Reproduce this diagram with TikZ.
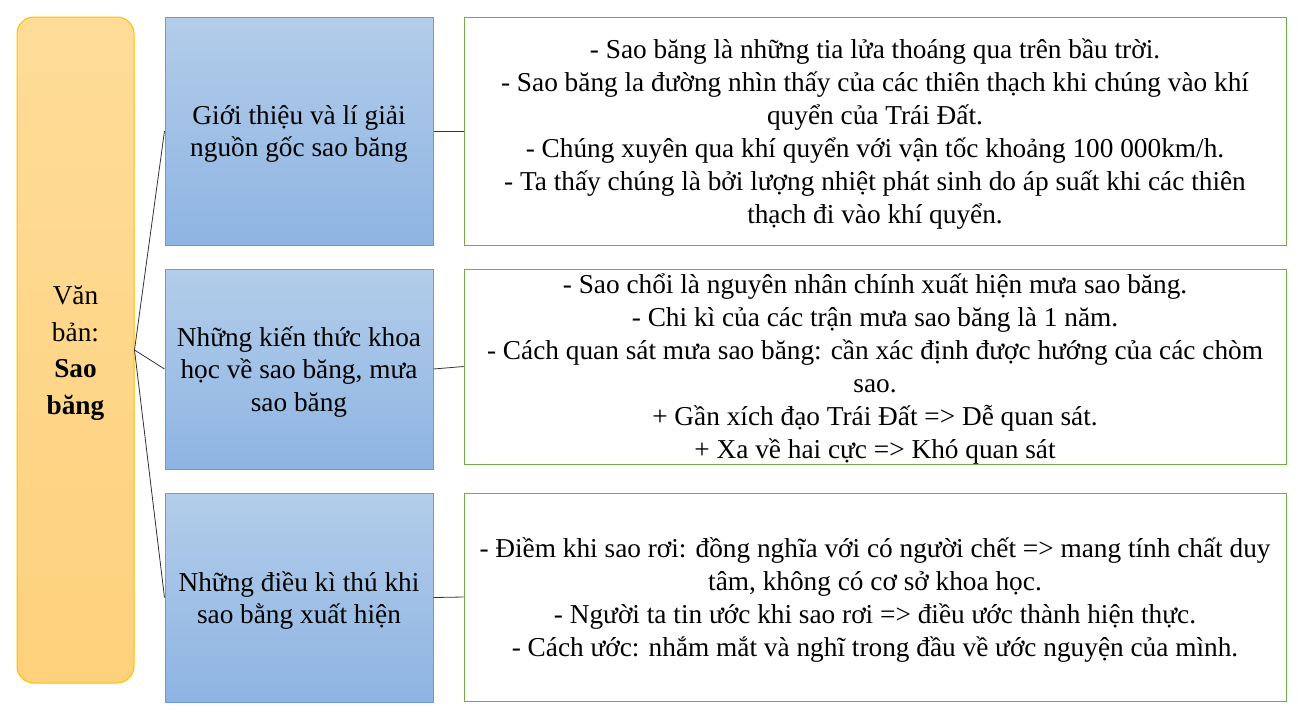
\documentclass[tikz,border=0pt]{standalone}
\usepackage{fontspec}
\setmainfont{Liberation Serif}
\definecolor{goldline}{HTML}{FFC000}
\definecolor{goldtop}{HTML}{FEDC98}
\definecolor{goldbot}{HTML}{FED17C}
\definecolor{blueline}{HTML}{6A9BD8}
\definecolor{bluetop}{HTML}{B3CDEA}
\definecolor{bluebot}{HTML}{8EB4E2}
\definecolor{greenline}{HTML}{70AD47}
\begin{document}
\begin{tikzpicture}[x=1pt, y=-1pt,
	titlebox/.style={draw=goldline, line width=1pt, rounded corners=17pt, top color=goldtop, bottom color=goldbot, minimum width=117pt, minimum height=666pt, align=center, text depth=0pt, font=\fontsize{27.3}{36.5}\selectfont},
	partbox/.style={draw=blueline, line width=1pt, top color=bluetop, bottom color=bluebot, minimum width=268pt, align=center, inner sep=0pt, text depth=0pt, font=\fontsize{27.3}{32.5}\selectfont},
	notebox/.style={draw=greenline, line width=1pt, fill=white, minimum width=822pt, align=center, inner sep=0pt, text depth=0pt, font=\fontsize{27.3}{33}\selectfont},
	link/.style={draw=black!80, line width=0.8pt}]
\useasboundingbox (0,0) rectangle (1298,716);
%
\node [titlebox] (title) at (75.5,350) {Văn\\bản:\\\textbf{Sao}\\\textbf{băng}};
%
\node [partbox, minimum height=228pt] (intro) at (299,131) {Giới thiệu và lí giải\\nguồn gốc sao băng};
\node [partbox, minimum height=200pt] (science) at (299,369) {Những kiến thức khoa\\học về sao băng, mưa\\sao băng};
\node [partbox, minimum height=209pt] (wonder) at (299,597.5) {Những điều kì thú khi\\sao bằng xuất hiện};
%
\node [notebox, minimum height=228pt] (introtext) at (875,131) {- Sao băng là những tia lửa thoáng qua trên bầu trời.\\- Sao băng la đường nhìn thấy của các thiên thạch khi chúng vào khí\\quyển của Trái Đất.\\- Chúng xuyên qua khí quyển với vận tốc khoảng 100 000km/h.\\- Ta thấy chúng là bởi lượng nhiệt phát sinh do áp suất khi các thiên\\thạch đi vào khí quyển.};
\node [notebox, minimum height=195pt] (sciencetext) at (875,366.5) {- Sao chổi là nguyên nhân chính xuất hiện mưa sao băng.\\- Chi kì của các trận mưa sao băng là 1 năm.\\- Cách quan sát mưa sao băng: cần xác định được hướng của các chòm\\sao.\\+ Gần xích đạo Trái Đất => Dễ quan sát.\\+ Xa về hai cực => Khó quan sát};
\node [notebox, minimum height=208pt] (wondertext) at (875,597) {- Điềm khi sao rơi: đồng nghĩa với có người chết => mang tính chất duy\\tâm, không có cơ sở khoa học.\\- Người ta tin ước khi sao rơi => điều ước thành hiện thực.\\- Cách ước: nhắm mắt và nghĩ trong đầu về ước nguyện của mình.};
%
\foreach \p/\q in {intro/introtext, science/sciencetext, wonder/wondertext}{
	\draw [link] (title.east) -- (\p.west);
	\draw [link] (\p.east) -- (\q.west);
}
\end{tikzpicture}
\end{document}
